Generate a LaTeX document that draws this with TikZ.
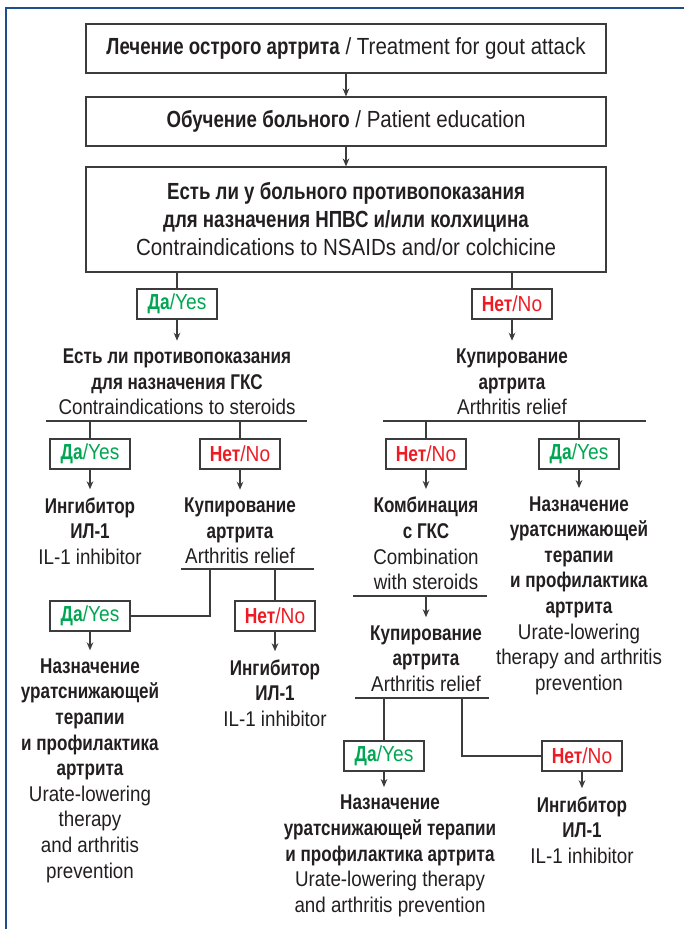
\documentclass[tikz,border=0pt]{standalone}
\usepackage{fontspec}
\setmainfont{Liberation Sans}[FakeStretch=0.88, BoldFeatures={FakeStretch=0.8}]
\usetikzlibrary{arrows.meta}
\definecolor{ink}{HTML}{231F20}
\definecolor{edge}{HTML}{3C3C3C}
\definecolor{dagreen}{HTML}{00A651}
\definecolor{netred}{HTML}{ED1C24}
\definecolor{frameblue}{HTML}{1F4E8C}
\newcommand{\yeslbl}{\textcolor{dagreen}{\textbf{Да}/Yes}}
\newcommand{\nolbl}{\textcolor{netred}{\textbf{Нет}/No}}

\begin{document}
\begin{tikzpicture}[x=0.75pt, y=-0.75pt,
    mainbox/.style={draw=edge, line width=0.9pt, minimum width=390pt, align=center, text=ink, font=\fontsize{17.5}{21}\selectfont},
    ansbox/.style={draw=edge, line width=0.8pt, minimum width=60pt, minimum height=22.5pt, inner sep=0pt, font=\fontsize{16.3}{19.2}\selectfont},
    txt/.style={align=center, inner xsep=0pt, inner ysep=6pt, text=ink, font=\fontsize{16}{19.2}\selectfont},
    link/.style={draw=edge, line width=0.8pt},
    arr/.style={link, -{Stealth[length=6pt,width=5pt]}}]
        \useasboundingbox (0,0) rectangle (684,929);
        % Blue frame at top and left
        \draw[frameblue, line width=1.7pt] (6,929) -- (6,8) -- (684,8);

        % Top boxes
        \node[mainbox, minimum height=36.75pt] (treat) at (346,48.5) {\textbf{Лечение острого артрита} / Treatment for gout attack};
        \node[mainbox, minimum height=36.75pt] (educ) at (346,121.5) {\textbf{Обучение больного} / Patient education};
        \node[mainbox, minimum height=78.75pt] (nsaid) at (346,219.5) {\textbf{Есть ли у больного противопоказания}\\\textbf{для назначения НПВС и/или колхицина}\\Contraindications to NSAIDs and/or colchicine};
        \draw[arr] (treat) -- (educ);
        \draw[arr] (educ) -- (nsaid);

        % First answer
        \node[ansbox] (yes1) at (177,304) {\yeslbl};
        \node[ansbox] (no1) at (512,304) {\nolbl};
        \draw[link] (nsaid.south -| yes1) -- (yes1);
        \draw[link] (nsaid.south -| no1) -- (no1);

        \node[txt] (steroid) at (177,382) {\textbf{Есть ли противопоказания}\\\textbf{для назначения ГКС}\\Contraindications to steroids};
        \node[txt] (relief1) at (512,382) {\textbf{Купирование}\\\textbf{артрита}\\Arthritis relief};
        \draw[arr] (yes1) -- (steroid);
        \draw[arr] (no1) -- (relief1);

        % Left branch: steroids
        \coordinate (barA-w) at (46,421);
        \coordinate (barA-e) at (307,421);
        \draw[link] (barA-w) -- (barA-e);
        \node[ansbox] (yes2) at (90,454) {\yeslbl};
        \node[ansbox] (no2) at (240,454) {\nolbl};
        \draw[link] (yes2 |- barA-w) -- (yes2);
        \draw[link] (no2 |- barA-w) -- (no2);

        \node[txt] (il1) at (90,531) {\textbf{Ингибитор}\\\textbf{ИЛ-1}\\IL-1 inhibitor};
        \node[txt] (relief2) at (240,531) {\textbf{Купирование}\\\textbf{артрита}\\Arthritis relief};
        \draw[arr] (yes2) -- (il1);
        \draw[arr] (no2) -- (relief2);

        \coordinate (barB-w) at (181,569);
        \coordinate (barB-e) at (314,569);
        \coordinate (barB-k) at (210,569);
        \draw[link] (barB-w) -- (barB-e);
        \node[ansbox] (yes3) at (90,616) {\yeslbl};
        \node[ansbox] (no3) at (275,616) {\nolbl};
        \draw[link] (barB-k) |- (yes3.east);
        \draw[link] (no3 |- barB-w) -- (no3);

        \node[txt] (urate1) at (90,770.5) {\textbf{Назначение}\\\textbf{уратснижающей}\\\textbf{терапии}\\\textbf{и профилактика}\\\textbf{артрита}\\Urate-lowering\\therapy\\and arthritis\\prevention};
        \node[txt] (il2) at (275,693) {\textbf{Ингибитор}\\\textbf{ИЛ-1}\\IL-1 inhibitor};
        \draw[arr] (yes3) -- (urate1);
        \draw[arr] (no3) -- (il2);

        % Right branch: arthritis relief
        \coordinate (barC-w) at (383,421);
        \coordinate (barC-e) at (646,421);
        \draw[link] (barC-w) -- (barC-e);
        \node[ansbox] (no4) at (426,454) {\nolbl};
        \node[ansbox] (yes4) at (579,454) {\yeslbl};
        \draw[link] (no4 |- barC-w) -- (no4);
        \draw[link] (yes4 |- barC-w) -- (yes4);

        \node[txt] (combo) at (426,543.5) {\textbf{Комбинация}\\\textbf{с ГКС}\\Combination\\with steroids};
        \node[txt] (urate2) at (579,595.5) {\textbf{Назначение}\\\textbf{уратснижающей}\\\textbf{терапии}\\\textbf{и профилактика}\\\textbf{артрита}\\Urate-lowering\\therapy and arthritis\\prevention};
        \draw[arr] (no4) -- (combo);
        \draw[arr] (yes4) -- (urate2);

        \coordinate (barD-w) at (353,596);
        \coordinate (barD-e) at (487,596);
        \draw[link] (barD-w) -- (barD-e);
        \node[txt] (relief3) at (426,658.5) {\textbf{Купирование}\\\textbf{артрита}\\Arthritis relief};
        \draw[arr] (relief3 |- barD-w) -- (relief3);

        \coordinate (barE-w) at (355,698);
        \coordinate (barE-e) at (489,698);
        \coordinate (barE-k) at (462,698);
        \draw[link] (barE-w) -- (barE-e);
        \node[ansbox] (yes5) at (384,756) {\yeslbl};
        \node[ansbox] (no5) at (582,756) {\nolbl};
        \draw[link] (yes5 |- barE-w) -- (yes5);
        \draw[link] (barE-k) |- (no5.west);

        \node[txt] (urate3) at (390,856) {\textbf{Назначение}\\\textbf{уратснижающей терапии}\\\textbf{и профилактика артрита}\\Urate-lowering therapy\\and arthritis prevention};
        \node[txt] (il3) at (582,830) {\textbf{Ингибитор}\\\textbf{ИЛ-1}\\IL-1 inhibitor};
        \draw[arr] (yes5) -- (yes5 |- urate3.north);
        \draw[arr] (no5) -- (il3);
    \end{tikzpicture}
\end{document}
